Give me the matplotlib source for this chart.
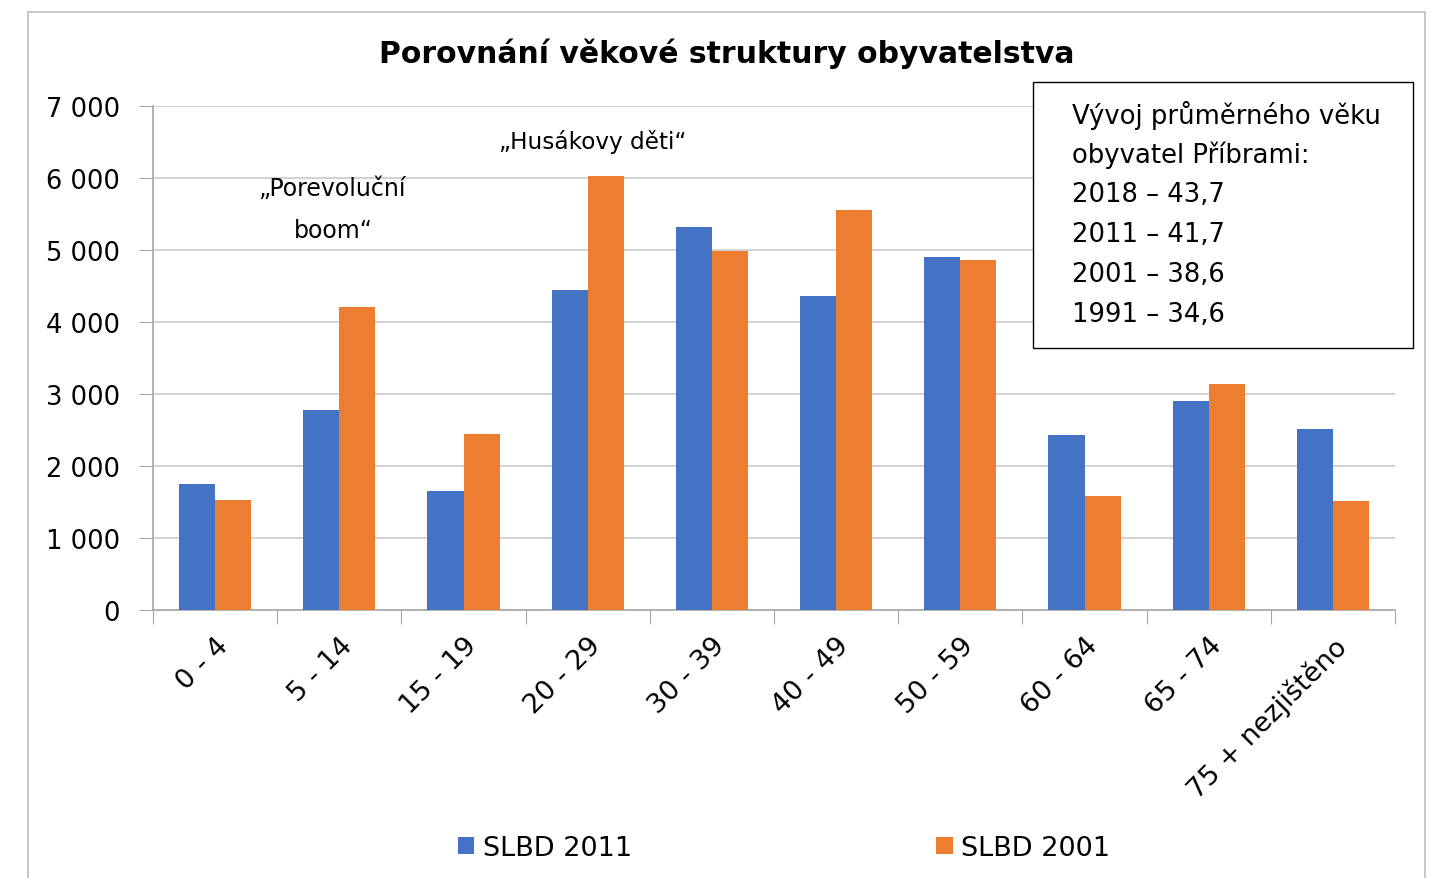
import matplotlib.pyplot as plt
import numpy as np
from matplotlib.patches import Rectangle

categories = ["0 - 4", "5 - 14", "15 - 19", "20 - 29", "30 - 39",
              "40 - 49", "50 - 59", "60 - 64", "65 - 74", "75 + nezjištěno"]
slbd_2011 = [1750, 2780, 1650, 4440, 5320, 4360, 4900, 2430, 2900, 2510]
slbd_2001 = [1530, 4210, 2440, 6030, 4990, 5560, 4860, 1580, 3140, 1510]
series_names = ["SLBD 2011", "SLBD 2001"]
yticks = [0, 1000, 2000, 3000, 4000, 5000, 6000, 7000]
info_lines = ["Vývoj průměrného věku", "obyvatel Příbrami:",
              "2018 – 43,7", "2011 – 41,7", "2001 – 38,6", "1991 – 34,6"]

BLUE = "#4472C4"
ORANGE = "#ED7D31"
GRID = "#C9C9C9"
AXIS = "#A6A6A6"

plt.rcParams["font.family"] = ["DejaVu Sans"]

W, H = 1434, 879
fig = plt.figure(figsize=(W / 100, H / 100), dpi=100)
ax = fig.add_axes([153 / W, 1 - 611 / H, (1395 - 153) / W, (611 - 107) / H])

x = np.arange(len(categories))
bw = 0.29
ax.bar(x - bw / 2, slbd_2011, bw, color=BLUE, label=series_names[0], zorder=3)
ax.bar(x + bw / 2, slbd_2001, bw, color=ORANGE, label=series_names[1], zorder=3)

ax.set_xlim(-0.5, len(categories) - 0.5)
ax.set_ylim(0, 7000)
ax.set_yticks(yticks)
ax.set_yticklabels([f"{v:,}".replace(",", " ") for v in yticks], fontsize=18.5)
ax.tick_params(axis="y", length=10, color=AXIS, pad=14)
ax.yaxis.grid(True, color=GRID, linewidth=1.2, zorder=0)

# category boundary ticks, labels at centers
ax.set_xticks(np.arange(-0.5, len(categories)), minor=False)
ax.set_xticklabels([])
ax.tick_params(axis="x", which="major", length=10, color=AXIS)
ax.set_xticks(x, minor=True)
ax.set_xticklabels(categories, minor=True, rotation=45, ha="right", va="top",
                   rotation_mode="anchor", fontsize=19.5)
ax.tick_params(axis="x", which="minor", length=0, pad=16)

for s in ["top", "right"]:
    ax.spines[s].set_visible(False)
ax.spines["left"].set_color(AXIS)
ax.spines["bottom"].set_color(AXIS)
ax.spines["left"].set_linewidth(1.2)
ax.spines["bottom"].set_linewidth(1.2)

fig.text(727 / W, 1 - 54 / H, "Porovnání věkové struktury obyvatelstva",
         ha="center", va="center", fontsize=21.5, fontweight="bold")

ax.text(0.95, 5570, "„Porevoluční\nboom“", ha="center", va="center",
        fontsize=17, linespacing=1.95, zorder=4)
ax.text(3.04, 6510, "„Husákovy děti“", ha="center", va="center",
        fontsize=16.7, zorder=4)

# info box
box = Rectangle((1033 / W, 1 - 349 / H), (1413 - 1033) / W, (349 - 83) / H,
                transform=fig.transFigure, facecolor="white", edgecolor="black",
                linewidth=1.0, zorder=5)
fig.add_artist(box)
for i, line in enumerate(info_lines):
    fig.text(1072 / W, 1 - (115 + 40 * i) / H, line, ha="left", va="center",
             fontsize=18.6, zorder=6)

# outer chart border
fig.add_artist(Rectangle((28 / W, -0.02), (1425 - 28) / W, (879 - 13) / H + 0.02,
                         transform=fig.transFigure, fill=False,
                         edgecolor="#BFBFBF", linewidth=1.2))

leg = fig.legend(loc="center", bbox_to_anchor=(784 / W, 1 - 849 / H), ncol=2,
                 frameon=False, fontsize=19.5, handlelength=0.6, handleheight=0.6,
                 handletextpad=0.3, columnspacing=11.25)

fig.savefig("out.png", dpi=100)
